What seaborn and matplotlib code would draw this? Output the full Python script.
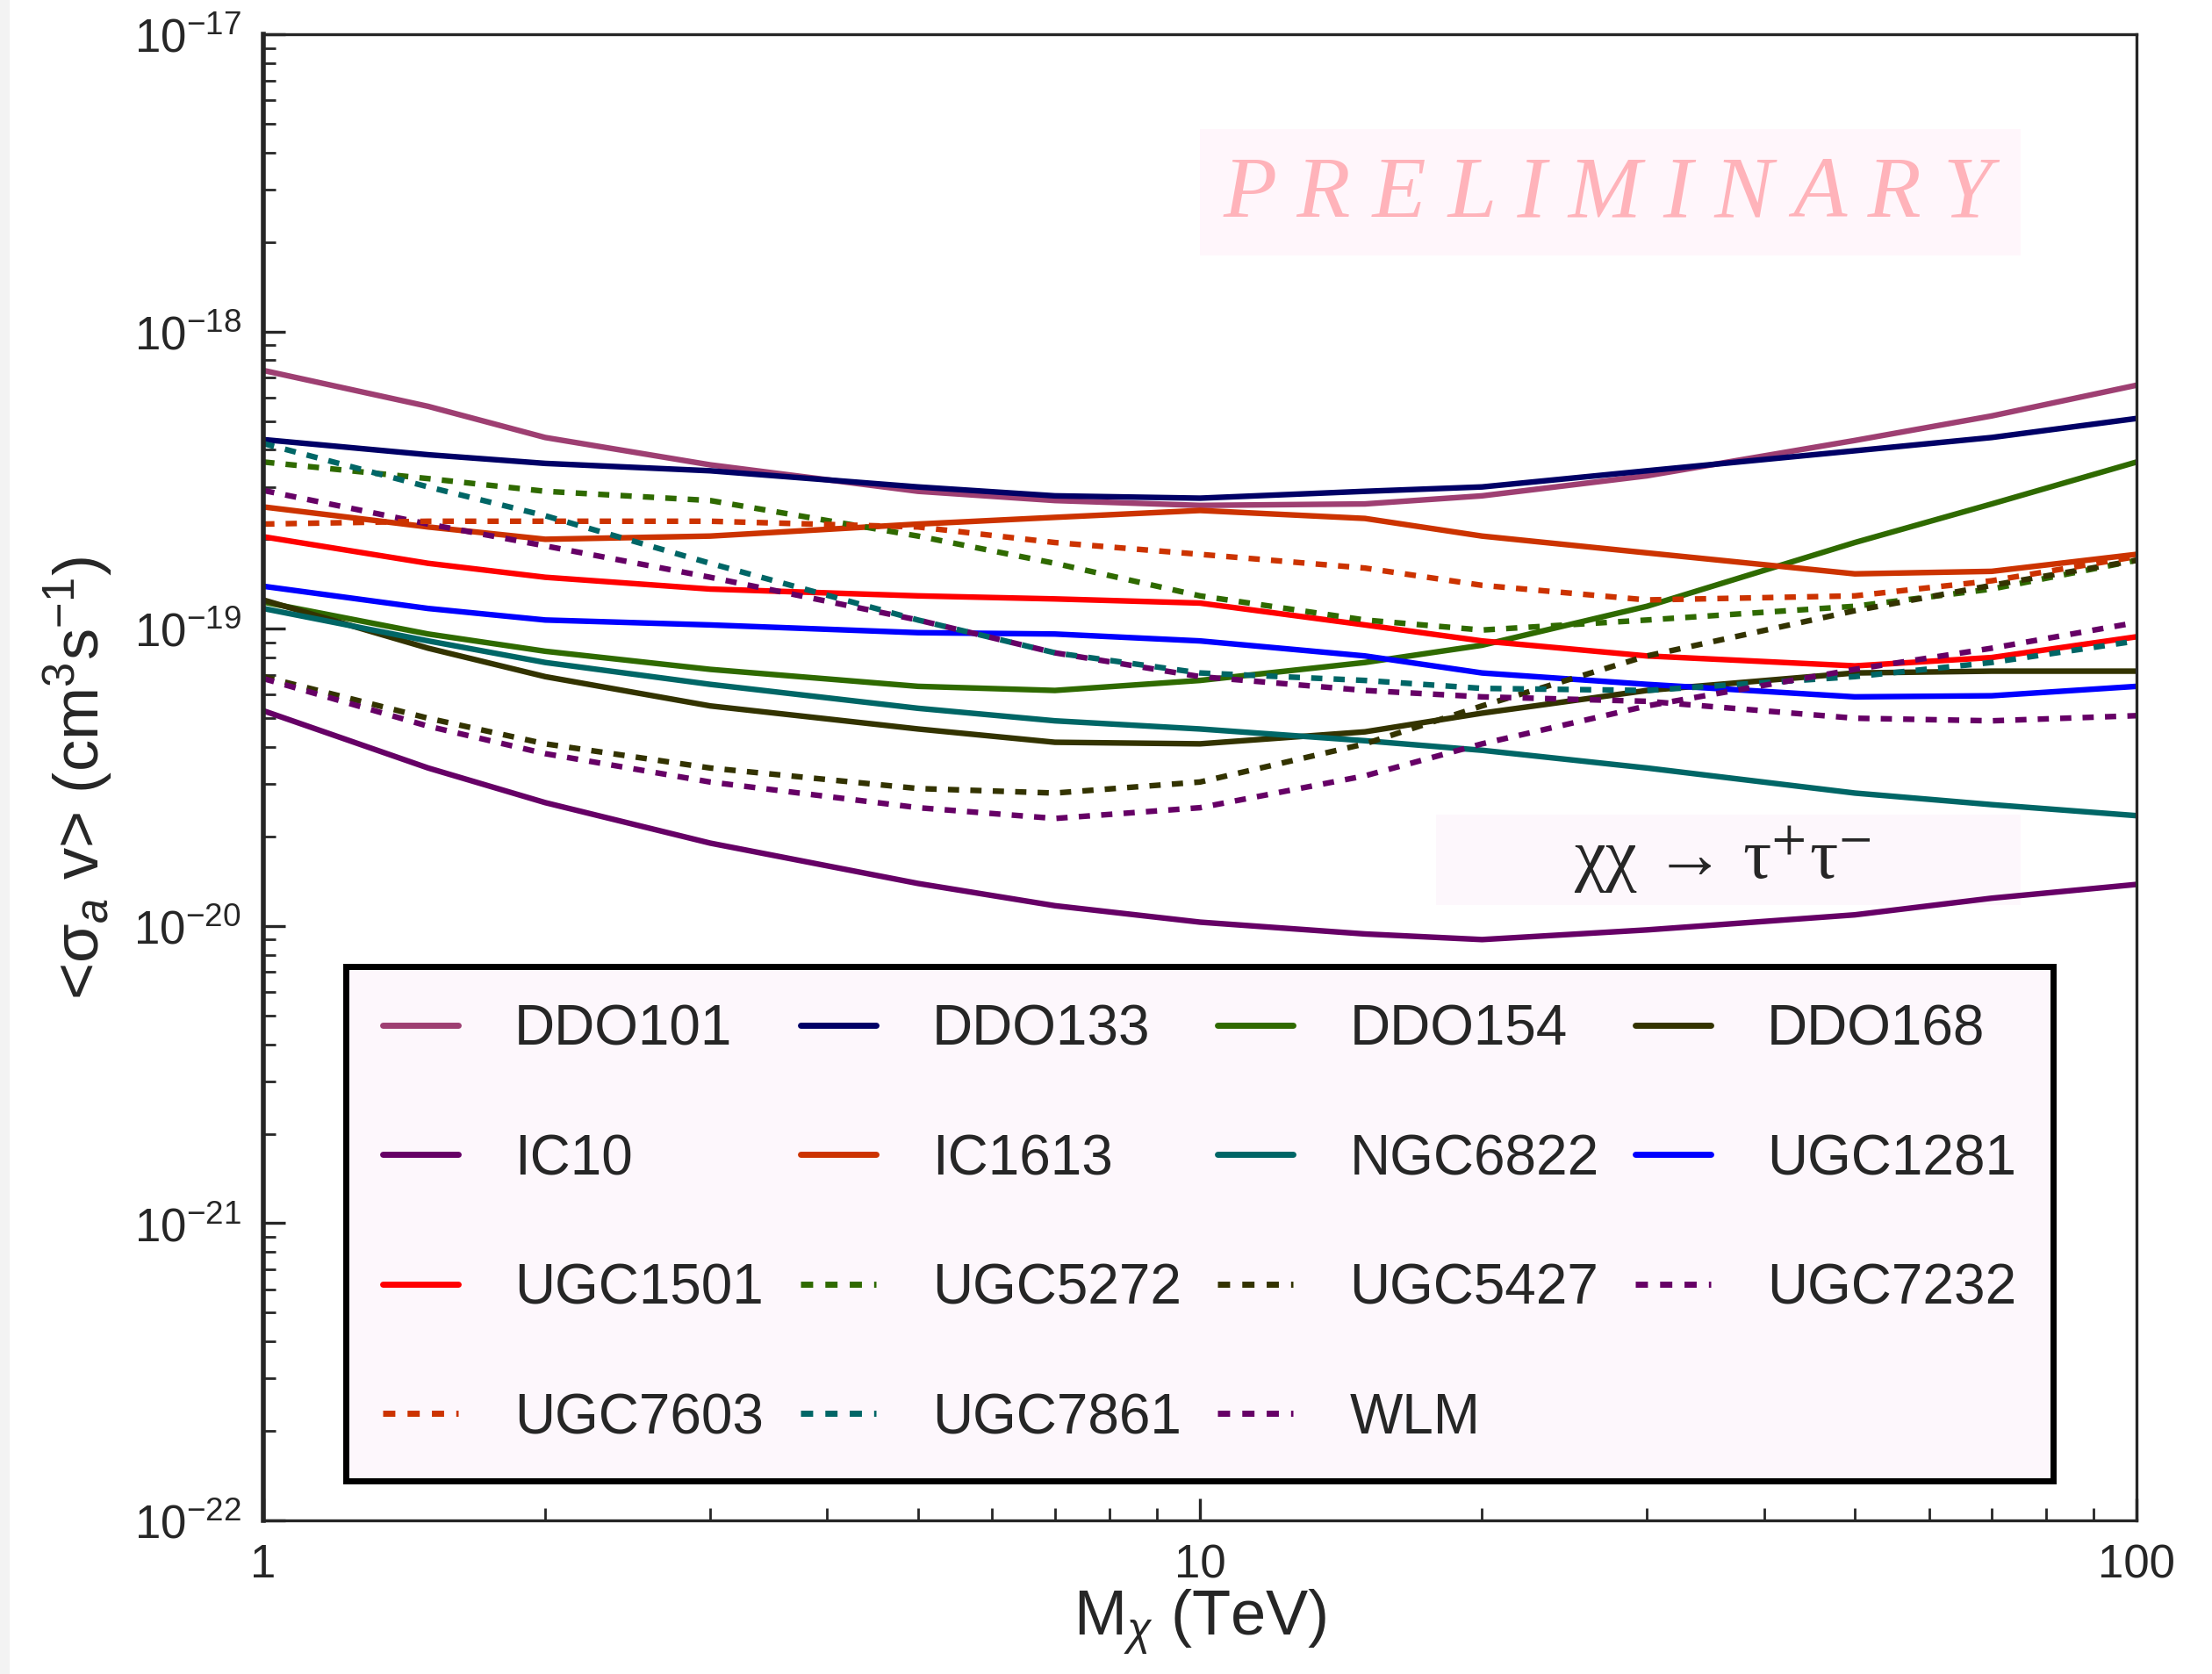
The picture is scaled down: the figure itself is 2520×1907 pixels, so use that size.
import numpy as np
import pandas as pd
import seaborn as sns
import matplotlib.pyplot as plt
from matplotlib.patches import Rectangle
from matplotlib.ticker import LogLocator, NullFormatter

# dark matter mass (TeV)
mass = [1, 1.5, 2, 3, 5, 7, 10, 15, 20, 30, 50, 70, 100]

# <sigma v> upper limits
ddo101 = [7.4e-19, 5.6e-19, 4.4e-19, 3.56e-19, 2.9e-19, 2.7e-19, 2.6e-19, 2.63e-19, 2.8e-19, 3.27e-19, 4.3e-19, 5.2e-19, 6.6e-19]
ddo133 = [4.33e-19, 3.85e-19, 3.6e-19, 3.4e-19, 3.0e-19, 2.8e-19, 2.75e-19, 2.9e-19, 3.0e-19, 3.4e-19, 3.97e-19, 4.4e-19, 5.1e-19]
ddo154 = [1.23e-19, 9.6e-20, 8.4e-20, 7.3e-20, 6.4e-20, 6.2e-20, 6.7e-20, 7.7e-20, 8.8e-20, 1.19e-19, 1.95e-19, 2.63e-19, 3.64e-19]
ddo168 = [1.25e-19, 8.6e-20, 6.9e-20, 5.5e-20, 4.6e-20, 4.15e-20, 4.1e-20, 4.5e-20, 5.2e-20, 6.2e-20, 7.1e-20, 7.2e-20, 7.2e-20]
ic10 = [5.3e-20, 3.4e-20, 2.6e-20, 1.9e-20, 1.39e-20, 1.17e-20, 1.03e-20, 9.4e-21, 9.0e-21, 9.7e-21, 1.09e-20, 1.24e-20, 1.38e-20]
ic1613 = [2.57e-19, 2.2e-19, 2.0e-19, 2.05e-19, 2.25e-19, 2.37e-19, 2.5e-19, 2.35e-19, 2.05e-19, 1.8e-19, 1.53e-19, 1.56e-19, 1.78e-19]
ngc6822 = [1.17e-19, 9.1e-20, 7.7e-20, 6.5e-20, 5.4e-20, 4.9e-20, 4.6e-20, 4.2e-20, 3.9e-20, 3.4e-20, 2.8e-20, 2.56e-20, 2.35e-20]
ugc1281 = [1.39e-19, 1.17e-19, 1.07e-19, 1.03e-19, 9.7e-20, 9.6e-20, 9.1e-20, 8.1e-20, 7.1e-20, 6.5e-20, 5.9e-20, 5.95e-20, 6.4e-20]
ugc1501 = [2.04e-19, 1.66e-19, 1.49e-19, 1.36e-19, 1.29e-19, 1.26e-19, 1.22e-19, 1.03e-19, 9.1e-20, 8.1e-20, 7.5e-20, 8.0e-20, 9.4e-20]
ugc5272 = [3.64e-19, 3.2e-19, 2.9e-19, 2.7e-19, 2.05e-19, 1.66e-19, 1.29e-19, 1.07e-19, 9.9e-20, 1.07e-19, 1.19e-19, 1.36e-19, 1.7e-19]
ugc5427 = [6.9e-20, 5.0e-20, 4.1e-20, 3.4e-20, 2.9e-20, 2.8e-20, 3.05e-20, 4.1e-20, 5.5e-20, 8.1e-20, 1.15e-19, 1.4e-19, 1.7e-19]
ugc7232 = [2.92e-19, 2.25e-19, 1.9e-19, 1.49e-19, 1.07e-19, 8.3e-20, 6.9e-20, 6.2e-20, 5.9e-20, 5.7e-20, 5.0e-20, 4.9e-20, 5.1e-20]
ugc7603 = [2.25e-19, 2.3e-19, 2.3e-19, 2.3e-19, 2.2e-19, 1.95e-19, 1.78e-19, 1.6e-19, 1.4e-19, 1.25e-19, 1.29e-19, 1.45e-19, 1.75e-19]
ugc7861 = [4.2e-19, 3.0e-19, 2.4e-19, 1.66e-19, 1.07e-19, 8.3e-20, 7.1e-20, 6.7e-20, 6.3e-20, 6.2e-20, 6.9e-20, 7.7e-20, 9.1e-20]
wlm = [6.8e-20, 4.7e-20, 3.8e-20, 3.05e-20, 2.5e-20, 2.3e-20, 2.5e-20, 3.2e-20, 4.1e-20, 5.5e-20, 7.3e-20, 8.6e-20, 1.05e-19]

names = ["DDO101", "DDO133", "DDO154", "DDO168", "IC10", "IC1613", "NGC6822", "UGC1281",
         "UGC1501", "UGC5272", "UGC5427", "UGC7232", "UGC7603", "UGC7861", "WLM"]
series = [ddo101, ddo133, ddo154, ddo168, ic10, ic1613, ngc6822, ugc1281,
          ugc1501, ugc5272, ugc5427, ugc7232, ugc7603, ugc7861, wlm]
colors = ["#9e3f72", "#000066", "#2f6a00", "#333300", "#660066", "#cc3300", "#006666", "#0000ff",
          "#ff0000", "#2f6a00", "#333300", "#660066", "#cc3300", "#006666", "#660066"]
dashed = [False] * 9 + [True] * 6

xticks = [1, 10, 100]
xticklabels = ["1", "10", "100"]
yticks = [1e-22, 1e-21, 1e-20, 1e-19, 1e-18, 1e-17]

sns.set_style("ticks")
plt.rcParams["font.family"] = ["Liberation Sans", "DejaVu Sans"]
plt.rcParams["mathtext.fontset"] = "custom"
plt.rcParams["mathtext.rm"] = "Liberation Sans"
plt.rcParams["mathtext.it"] = "Liberation Sans:italic"

fig = plt.figure(figsize=(12.6, 9.54), dpi=200)
ax = fig.add_axes([0.119, 0.0917, 0.847, 0.8873])

for name, vals, c, d in zip(names, series, colors, dashed):
    df = pd.DataFrame({"mass": mass, "sv": vals})
    ls = (0, (2.0, 2.0)) if d else "-"
    sns.lineplot(data=df, x="mass", y="sv", color=c, lw=2.3, linestyle=ls, label=name, ax=ax)

ax.set_xscale("log")
ax.set_yscale("log")
ax.set_xlim(1, 100)
ax.set_ylim(1e-22, 1e-17)
ax.set_xticks(xticks)
ax.set_xticklabels(xticklabels)
ax.set_yticks(yticks)
ax.xaxis.set_minor_locator(LogLocator(base=10, subs=np.arange(2, 10)))
ax.yaxis.set_minor_locator(LogLocator(base=10, subs=np.arange(2, 10)))
ax.xaxis.set_minor_formatter(NullFormatter())
ax.yaxis.set_minor_formatter(NullFormatter())
ax.set_xlim(1, 100)
ax.set_ylim(1e-22, 1e-17)
ax.tick_params(which="both", direction="in", top=False, right=False, labelsize=19)
ax.tick_params(which="major", length=9, width=1.2, pad=9)
ax.tick_params(which="minor", length=5, width=1)
for s in ax.spines.values():
    s.set_linewidth(1.2)
ax.spines["left"].set_linewidth(2)

ax.set_xlabel(r"M$_{\chi}$ (TeV)", fontsize=26, labelpad=0)
ax.set_ylabel("<σ$_{a}$ v> (cm$^{3}$s$^{-1}$)", fontsize=26, labelpad=8)

# PRELIMINARY banner
ax.add_patch(Rectangle((0.500, 0.851), 0.438, 0.085, transform=ax.transAxes,
                       facecolor="#fff6fb", edgecolor="none", zorder=1))
ax.text(0.7176, 0.892, "P R E L I M I N A R Y", transform=ax.transAxes, ha="center", va="center",
        fontsize=36, color="#ffb3ba", style="italic", family="Liberation Serif", zorder=2)

# channel label
ax.add_patch(Rectangle((0.626, 0.414), 0.312, 0.061, transform=ax.transAxes,
                       facecolor="#fdf7fc", edgecolor="none", zorder=1))
ax.text(0.779, 0.445, "χχ → τ$^{+}$τ$^{-}$", transform=ax.transAxes,
        ha="center", va="center", fontsize=29, family=["Liberation Serif", "DejaVu Serif"],
        math_fontfamily="stix", zorder=2)

# legend filled row by row like the original
handles, labels = ax.get_legend_handles_labels()
order = [0, 4, 8, 12, 1, 5, 9, 13, 2, 6, 10, 14, 3, 7, 11]
leg = ax.legend([handles[i] for i in order], [labels[i] for i in order],
                loc="lower center", bbox_to_anchor=(0.4998, 0.0266), borderaxespad=0,
                ncol=4, fontsize=23, handlelength=1.35, handletextpad=1.0, labelspacing=1.37,
                borderpad=0.65, columnspacing=0.65, fancybox=False, framealpha=1)
leg.get_frame().set_facecolor("#fdf7fc")
leg.get_frame().set_edgecolor("black")
leg.get_frame().set_linewidth(2.5)
for line in leg.get_lines():
    line.set_linewidth(2.5)

fig.patches.append(Rectangle((0, 0), 0.0045, 1, transform=fig.transFigure,
                             facecolor="#f3f3f3", edgecolor="none"))

fig.savefig("out.png", dpi=200)
